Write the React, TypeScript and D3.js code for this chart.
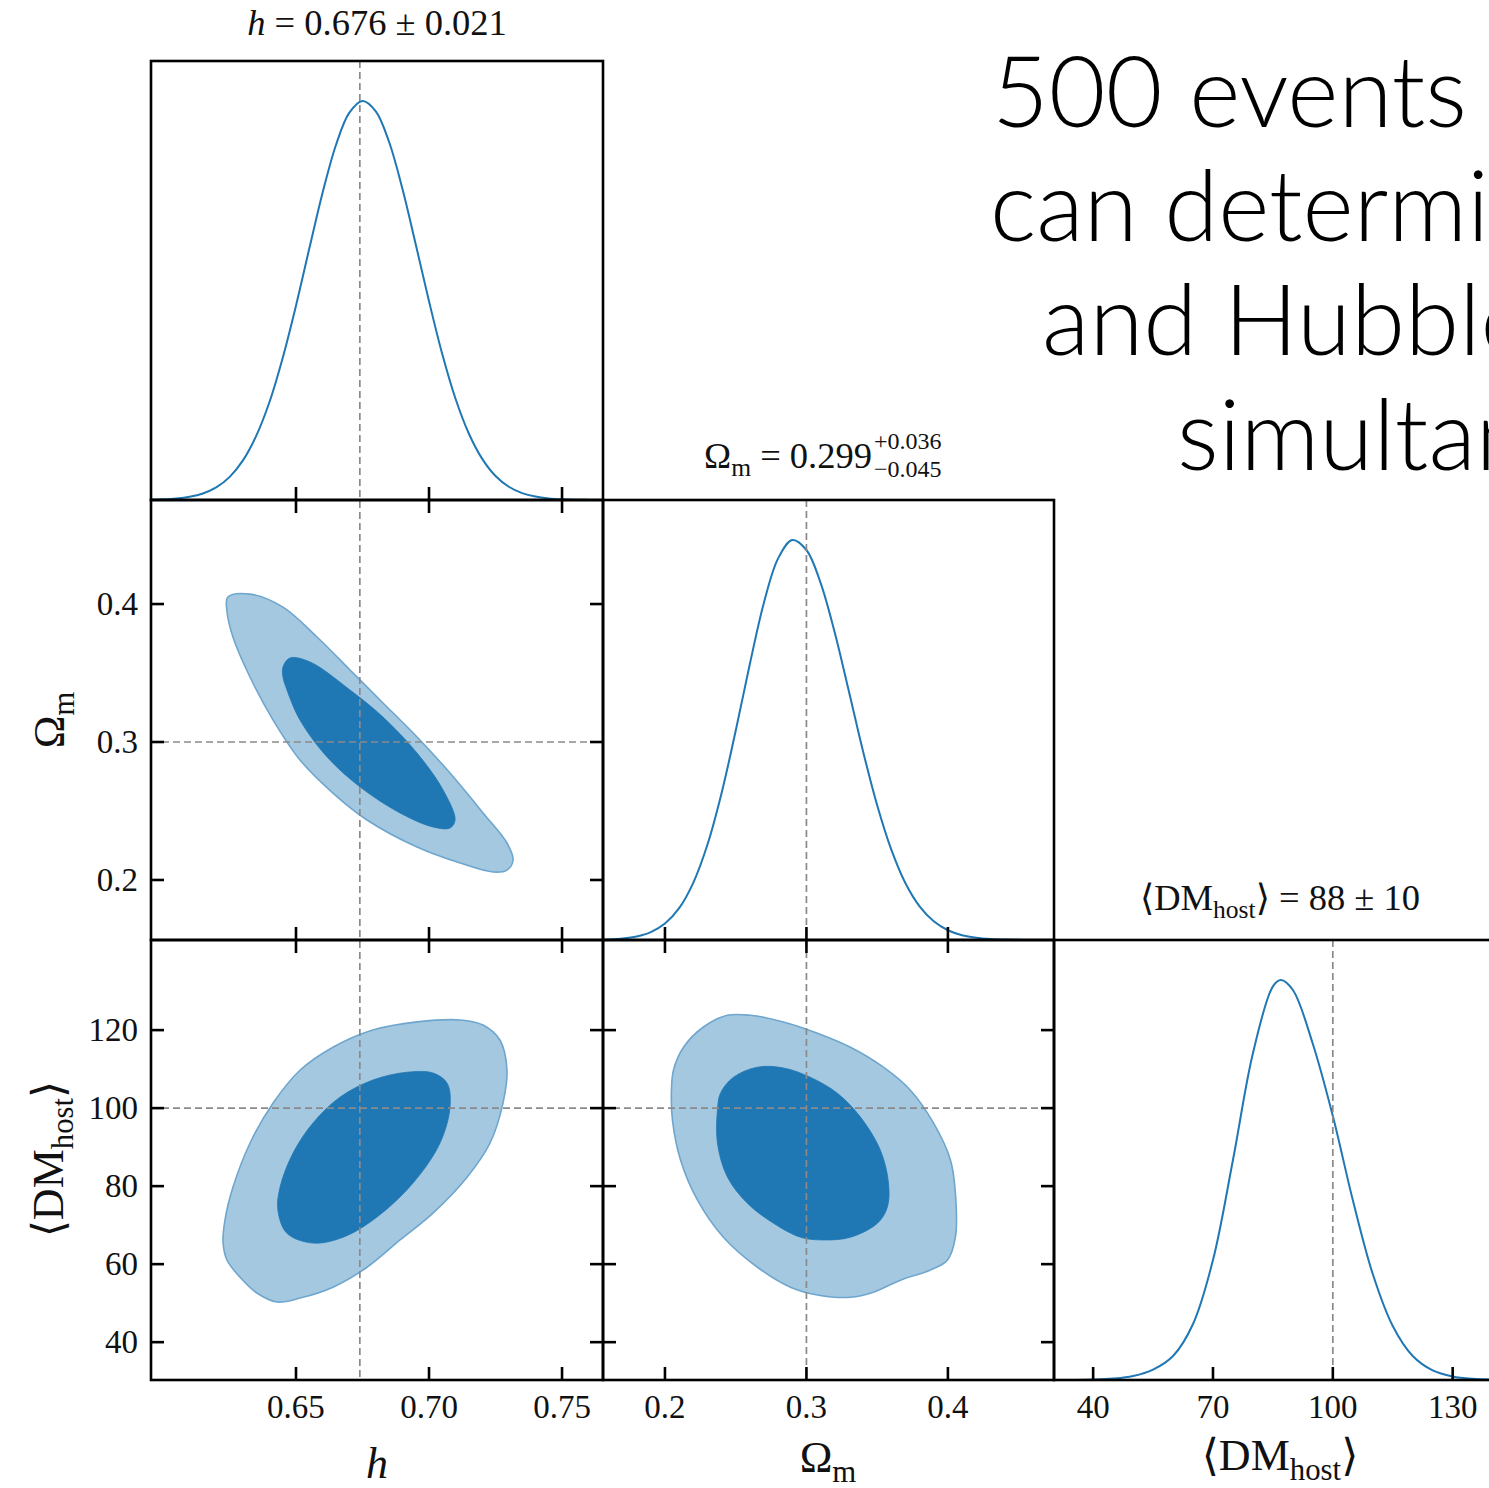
import React from 'react';
import * as d3 from 'd3';

// ---------------- data ----------------
const PARAMS = ['h', 'Ωm', '⟨DMhost⟩'];
const TRUTH_H = 0.674;
const TRUTH_OM = 0.3;
const TRUTH_DM = 100;

const H_TICKS = [0.65, 0.7, 0.75];
const H_TICK_LABELS = ['0.65', '0.70', '0.75'];
const OM_TICKS = [0.2, 0.3, 0.4];
const OM_TICK_LABELS = ['0.2', '0.3', '0.4'];
const DM_X_TICKS = [40, 70, 100, 130];
const DM_X_TICK_LABELS = ['40', '70', '100', '130'];
const DM_Y_TICKS = [40, 60, 80, 100, 120];
const DM_Y_TICK_LABELS = ['40', '60', '80', '100', '120'];

const H_LIMITS = [0.5955, 0.7654];
const OM_X_LIMITS = [0.1562, 0.475];
const OM_Y_LIMITS = [0.1565, 0.4754];
const DM_X_LIMITS = [30.2, 143.1];
const DM_Y_LIMITS = [30.3, 143.1];

// marginal densities (normalised to peak = 1)
const H_GRID = [0.595, 0.6, 0.605, 0.61, 0.615, 0.62, 0.625, 0.63, 0.635, 0.64, 0.645, 0.65, 0.655, 0.66, 0.665, 0.67, 0.675, 0.68, 0.685, 0.69, 0.695, 0.7, 0.705, 0.71, 0.715, 0.72, 0.725, 0.73, 0.735, 0.74, 0.745, 0.75, 0.755, 0.76, 0.765];
const H_PDF = [0.0007, 0.0016, 0.0037, 0.0081, 0.0164, 0.0316, 0.0574, 0.0987, 0.16, 0.245, 0.356, 0.487, 0.63, 0.77, 0.889, 0.97, 1.0, 0.974, 0.897, 0.78, 0.641, 0.498, 0.365, 0.253, 0.166, 0.103, 0.0601, 0.0332, 0.0173, 0.0086, 0.004, 0.0018, 0.0007, 0.0003, 0.0001];

const OM_GRID = [0.156, 0.16, 0.17, 0.18, 0.19, 0.2, 0.21, 0.22, 0.23, 0.24, 0.25, 0.26, 0.27, 0.28, 0.29, 0.3, 0.31, 0.32, 0.33, 0.34, 0.35, 0.36, 0.37, 0.38, 0.39, 0.4, 0.41, 0.42, 0.43, 0.44, 0.45, 0.46, 0.475];
const OM_PDF = [0.0008, 0.0013, 0.0035, 0.0086, 0.0195, 0.041, 0.0796, 0.143, 0.238, 0.367, 0.523, 0.69, 0.844, 0.954, 1.0, 0.975, 0.893, 0.769, 0.622, 0.472, 0.337, 0.226, 0.142, 0.0842, 0.0467, 0.0244, 0.012, 0.0055, 0.0024, 0.001, 0.0004, 0.0001, 0.0];

const DM_GRID = [30, 35, 40, 45, 50, 55, 60, 65, 70, 75, 80, 85, 87, 90, 95, 100, 105, 110, 115, 120, 125, 130, 135, 140, 145];
const DM_PDF = [0.0, 0.0002, 0.001, 0.0035, 0.01, 0.026, 0.06, 0.14, 0.3, 0.55, 0.817, 0.984, 1.0, 0.975, 0.84, 0.66, 0.45, 0.265, 0.135, 0.06, 0.024, 0.009, 0.003, 0.001, 0.0];

const H_OM_95 = [[0.6244, 0.4051], [0.6327, 0.4072], [0.6451, 0.3978], [0.6579, 0.3761], [0.6703, 0.3522], [0.6827, 0.3283], [0.6955, 0.3036], [0.7079, 0.2775], [0.7203, 0.2486], [0.7293, 0.2268], [0.7316, 0.2145], [0.7293, 0.2072], [0.7241, 0.2058], [0.7117, 0.2123], [0.6955, 0.2239], [0.6767, 0.2435], [0.6639, 0.263], [0.6515, 0.287], [0.6414, 0.3159], [0.6327, 0.3471], [0.6263, 0.3761], [0.6241, 0.3942]];
const H_OM_68 = [[0.6451, 0.3543], [0.6477, 0.3609], [0.6553, 0.358], [0.6703, 0.3377], [0.6827, 0.3181], [0.6955, 0.292], [0.7053, 0.2652], [0.7098, 0.2435], [0.7079, 0.2377], [0.7015, 0.2384], [0.6891, 0.2486], [0.6741, 0.2674], [0.6617, 0.2891], [0.6515, 0.3159], [0.6466, 0.3377], [0.6451, 0.3471]];

const H_DM_95 = [[0.6226, 65.4], [0.6241, 61.0], [0.6289, 56.7], [0.6353, 52.6], [0.6429, 50.3], [0.6515, 51.3], [0.6639, 54.1], [0.6767, 59.2], [0.6891, 66.2], [0.7015, 73.1], [0.7143, 82.3], [0.7229, 91.0], [0.7278, 101.3], [0.7293, 109.7], [0.7267, 117.4], [0.7203, 121.3], [0.7117, 122.6], [0.6955, 122.1], [0.6789, 120.0], [0.6639, 115.6], [0.6515, 109.7], [0.6414, 101.3], [0.6327, 91.0], [0.6263, 79.7], [0.6233, 71.3]];
const H_DM_68 = [[0.6432, 73.8], [0.6466, 67.9], [0.6564, 65.4], [0.6677, 66.9], [0.6805, 72.1], [0.694, 80.8], [0.7041, 91.0], [0.7079, 100.3], [0.7068, 106.4], [0.7015, 109.0], [0.6917, 109.2], [0.6789, 107.2], [0.6665, 102.8], [0.6564, 96.2], [0.6489, 88.5], [0.644, 79.7]];

const OM_DM_95 = [[0.206, 109.7], [0.2131, 115.6], [0.2272, 120.8], [0.2442, 123.8], [0.2604, 123.8], [0.2837, 122.1], [0.3078, 119.2], [0.3311, 115.6], [0.3544, 110.5], [0.3735, 104.6], [0.3898, 96.2], [0.4018, 86.7], [0.4053, 78.2], [0.4053, 66.9], [0.3996, 61.0], [0.3876, 58.5], [0.3664, 55.9], [0.3473, 52.8], [0.3311, 51.5], [0.3078, 52.1], [0.2887, 54.1], [0.2654, 59.2], [0.2413, 66.9], [0.223, 76.4], [0.211, 86.7], [0.2053, 96.9], [0.2046, 104.6]];
const OM_DM_68 = [[0.2371, 99.5], [0.2392, 103.8], [0.2484, 107.9], [0.2654, 110.5], [0.2837, 110.3], [0.3028, 107.9], [0.3219, 103.8], [0.3382, 97.7], [0.3523, 89.2], [0.358, 80.8], [0.3572, 74.6], [0.3502, 70.5], [0.3311, 66.9], [0.312, 66.2], [0.2958, 66.9], [0.2767, 70.5], [0.2583, 75.6], [0.2442, 82.3], [0.2371, 91.0]];

const BIG_TEXT = ['500 events', 'can determine', 'and Hubble', 'simultaneously'];

// ---------------- layout ----------------
const W = 1489;
const HGT = 1488;
const COLS = [151, 603, 1054, 1505];
const ROWS = [61, 500, 940, 1380];
const TICK = 13;
const SERIF = '"Liberation Serif", "DejaVu Serif", serif';

const C_DARK = '#1f77b4';
const C_LIGHT = '#a5c8e1';
const C_EDGE = '#6ea6ce';
const C_DASH = '#8a8a8a';

export default function App() {
  const xH = d3.scaleLinear().domain(H_LIMITS).range([COLS[0], COLS[1]]);
  const xOm = d3.scaleLinear().domain(OM_X_LIMITS).range([COLS[1], COLS[2]]);
  const xDM = d3.scaleLinear().domain(DM_X_LIMITS).range([COLS[2], COLS[3]]);
  const yOm = d3.scaleLinear().domain(OM_Y_LIMITS).range([ROWS[2], ROWS[1]]);
  const yDM = d3.scaleLinear().domain(DM_Y_LIMITS).range([ROWS[3], ROWS[2]]);
  const yPdf = (r: number) => d3.scaleLinear().domain([0, 1.1]).range([ROWS[r + 1], ROWS[r]]);

  const curve1D = (grid: number[], pdf: number[], xs: any, ys: any) =>
    d3.line<number>().x((_, i) => xs(grid[i])).y((d) => ys(d)).curve(d3.curveCatmullRom.alpha(0.5))(pdf) || '';

  const closed = (pts: number[][], xs: any, ys: any) =>
    d3.line<number[]>().x((p) => xs(p[0])).y((p) => ys(p[1])).curve(d3.curveCatmullRomClosed.alpha(0.5))(pts) || '';

  const contour = (key: string, o: number[][], i: number[][], xs: any, ys: any) => (
    <g key={key}>
      <path d={closed(o, xs, ys)} fill={C_LIGHT} stroke={C_EDGE} strokeWidth={1.6} />
      <path d={closed(i, xs, ys)} fill={C_DARK} stroke={C_DARK} strokeWidth={0.8} />
    </g>
  );

  // ticks
  const tickLines: any[] = [];
  const addX = (ticks: number[], xs: any, top: number, bottom: number, withTop: boolean, k: string) => {
    ticks.forEach((t, i) => {
      tickLines.push(<line key={k + 'b' + i} x1={xs(t)} x2={xs(t)} y1={bottom} y2={bottom - TICK} />);
      if (withTop) tickLines.push(<line key={k + 't' + i} x1={xs(t)} x2={xs(t)} y1={top} y2={top + TICK} />);
    });
  };
  const addY = (ticks: number[], ys: any, left: number, right: number, k: string) => {
    ticks.forEach((t, i) => {
      tickLines.push(<line key={k + 'l' + i} x1={left} x2={left + TICK} y1={ys(t)} y2={ys(t)} />);
      tickLines.push(<line key={k + 'r' + i} x1={right} x2={right - TICK} y1={ys(t)} y2={ys(t)} />);
    });
  };
  addX(H_TICKS, xH, ROWS[0], ROWS[1], false, 'd1');
  addX(OM_TICKS, xOm, ROWS[1], ROWS[2], false, 'd2');
  addX(DM_X_TICKS, xDM, ROWS[2], ROWS[3], false, 'd3');
  addX(H_TICKS, xH, ROWS[1], ROWS[2], true, 'p21');
  addY(OM_TICKS, yOm, COLS[0], COLS[1], 'p21');
  addX(H_TICKS, xH, ROWS[2], ROWS[3], true, 'p31');
  addY(DM_Y_TICKS, yDM, COLS[0], COLS[1], 'p31');
  addX(OM_TICKS, xOm, ROWS[2], ROWS[3], true, 'p32');
  addY(DM_Y_TICKS, yDM, COLS[1], COLS[2], 'p32');

  const panels = [
    [0, 0], [1, 0], [1, 1], [2, 0], [2, 1], [2, 2],
  ];

  const sub = (s: string, size: number) => (
    <tspan fontSize={size * 0.7} dy={size * 0.22}>{s}</tspan>
  );
  const TS = 36.5;

  return (
    <div style={{ position: 'absolute', left: 0, top: 0, width: W, height: HGT, overflow: 'hidden', background: '#fff' }}>
      <style>{'body{margin:0;overflow:hidden;}'}</style>
      <svg width={W} height={HGT} viewBox={`0 0 ${W} ${HGT}`} style={{ display: 'block' }}>
        <rect x={0} y={0} width={W} height={HGT} fill="#fff" />

        {contour('c21', H_OM_95, H_OM_68, xH, yOm)}
        {contour('c31', H_DM_95, H_DM_68, xH, yDM)}
        {contour('c32', OM_DM_95, OM_DM_68, xOm, yDM)}

        <path d={curve1D(H_GRID, H_PDF, xH, yPdf(0))} fill="none" stroke={C_DARK} strokeWidth={2} />
        <path d={curve1D(OM_GRID, OM_PDF, xOm, yPdf(1))} fill="none" stroke={C_DARK} strokeWidth={2} />
        <path d={curve1D(DM_GRID, DM_PDF, xDM, yPdf(2))} fill="none" stroke={C_DARK} strokeWidth={2} />

        <g stroke={C_DASH} strokeWidth={1.7} strokeDasharray="7,4" fill="none">
          <line x1={xH(TRUTH_H)} x2={xH(TRUTH_H)} y1={ROWS[0]} y2={ROWS[3]} />
          <line x1={xOm(TRUTH_OM)} x2={xOm(TRUTH_OM)} y1={ROWS[1]} y2={ROWS[3]} />
          <line x1={xDM(TRUTH_DM)} x2={xDM(TRUTH_DM)} y1={ROWS[2]} y2={ROWS[3]} />
          <line x1={COLS[0]} x2={COLS[1]} y1={yOm(TRUTH_OM)} y2={yOm(TRUTH_OM)} />
          <line x1={COLS[0]} x2={COLS[2]} y1={yDM(TRUTH_DM)} y2={yDM(TRUTH_DM)} />
        </g>

        <g fill="none" stroke="#000" strokeWidth={2.6}>
          {panels.map(([r, c]) => (
            <rect key={`f${r}${c}`} x={COLS[c]} y={ROWS[r]} width={COLS[c + 1] - COLS[c]} height={ROWS[r + 1] - ROWS[r]} />
          ))}
        </g>
        <g stroke="#000" strokeWidth={2.6}>{tickLines}</g>

        <g fontFamily={SERIF} fontSize={33} fill="#111">
          {H_TICKS.map((t, i) => (
            <text key={'hx' + i} x={xH(t)} y={1418} textAnchor="middle">{H_TICK_LABELS[i]}</text>
          ))}
          {OM_TICKS.map((t, i) => (
            <text key={'ox' + i} x={xOm(t)} y={1418} textAnchor="middle">{OM_TICK_LABELS[i]}</text>
          ))}
          {DM_X_TICKS.map((t, i) => (
            <text key={'dx' + i} x={xDM(t)} y={1418} textAnchor="middle">{DM_X_TICK_LABELS[i]}</text>
          ))}
          {OM_TICKS.map((t, i) => (
            <text key={'oy' + i} x={138} y={yOm(t) + 11} textAnchor="end">{OM_TICK_LABELS[i]}</text>
          ))}
          {DM_Y_TICKS.map((t, i) => (
            <text key={'dy' + i} x={138} y={yDM(t) + 11} textAnchor="end">{DM_Y_TICK_LABELS[i]}</text>
          ))}
        </g>

        <g fontFamily={SERIF} fontSize={44} fill="#111">
          <text x={377} y={1478} textAnchor="middle" fontStyle="italic">{PARAMS[0]}</text>
          <text x={828} y={1472} textAnchor="middle">Ω{sub('m', 44)}</text>
          <text x={1280} y={1470} textAnchor="middle">⟨DM{sub('host', 44)}<tspan dy={-44 * 0.22}>⟩</tspan></text>
          <text transform="translate(64,720) rotate(-90)" textAnchor="middle">Ω{sub('m', 44)}</text>
          <text transform="translate(63,1159) rotate(-90)" textAnchor="middle">⟨DM{sub('host', 44)}<tspan dy={-44 * 0.22}>⟩</tspan></text>
        </g>

        <g fontFamily={SERIF} fontSize={TS} fill="#111">
          <text x={377} y={35} textAnchor="middle"><tspan fontStyle="italic">h</tspan> = 0.676 ± 0.021</text>
          <text x={872} y={468} textAnchor="end">Ω{sub('m', TS)}<tspan dy={-TS * 0.22}> = 0.299</tspan></text>
          <text x={874} y={449} fontSize={24}>+0.036</text>
          <text x={874} y={477} fontSize={24}>−0.045</text>
          <text x={1280} y={910} textAnchor="middle">⟨DM{sub('host', TS)}<tspan dy={-TS * 0.22}>⟩ = 88 ± 10</tspan></text>
        </g>

        <g fontFamily='Lato, "Helvetica Neue", Roboto, "Liberation Sans", sans-serif' fontWeight={300} fontSize={98} fill="#000">
          <text x={992} y={127}>{BIG_TEXT[0]}</text>
          <text x={990} y={241}>{BIG_TEXT[1]}</text>
          <text x={1042} y={355}>{BIG_TEXT[2]}</text>
          <text x={1177} y={470}>{BIG_TEXT[3]}</text>
        </g>
      </svg>
    </div>
  );
}
